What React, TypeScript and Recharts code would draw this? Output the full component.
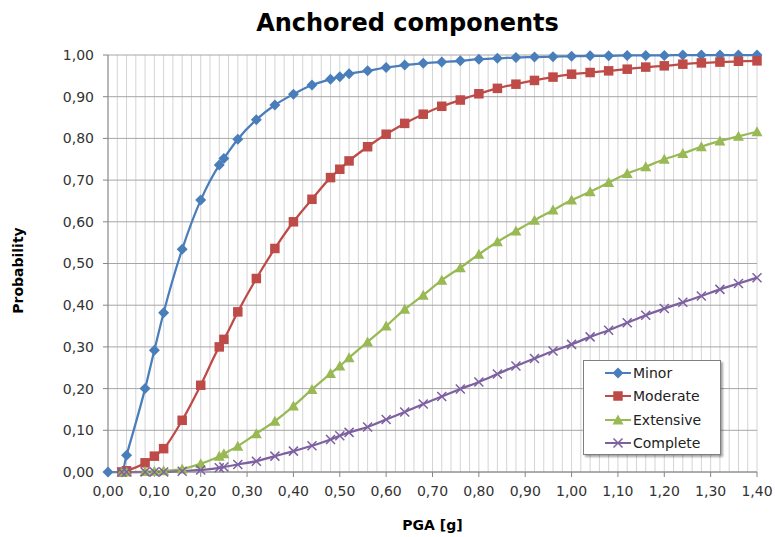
import React from 'react';
import { LineChart, Line, XAxis, YAxis, CartesianGrid } from 'recharts';

// PGA values [g] where the fragility curves are sampled
const pga = [
  0, 0.03, 0.04, 0.08, 0.1, 0.12, 0.16, 0.2, 0.24, 0.25, 0.28, 0.32, 0.36, 0.4,
  0.44, 0.48, 0.5, 0.52, 0.56, 0.6, 0.64, 0.68, 0.72, 0.76, 0.8, 0.84, 0.88, 0.92,
  0.96, 1.0, 1.04, 1.08, 1.12, 1.16, 1.2, 1.24, 1.28, 1.32, 1.36, 1.4,
];

const minor = [
  0, 0, 0.04, 0.2, 0.292, 0.382, 0.534, 0.652, 0.736, 0.752, 0.798, 0.845, 0.88, 0.906,
  0.928, 0.942, 0.948, 0.955, 0.962, 0.97, 0.976, 0.98, 0.983, 0.986, 0.99, 0.992, 0.994, 0.995,
  0.996, 0.997, 0.998, 0.998, 0.999, 0.999, 0.999, 1.0, 1.0, 1.0, 1.0, 1.0,
];

const moderate = [
  null, 0, 0.003, 0.022, 0.038, 0.056, 0.124, 0.208, 0.3, 0.318, 0.384, 0.464, 0.536, 0.6,
  0.654, 0.706, 0.726, 0.746, 0.78, 0.81, 0.836, 0.858, 0.877, 0.892, 0.907, 0.92, 0.93, 0.939,
  0.947, 0.954, 0.958, 0.962, 0.966, 0.971, 0.974, 0.978, 0.981, 0.983, 0.985, 0.986,
];

const extensive = [
  null, 0, 0, 0.001, 0.002, 0.003, 0.007, 0.02, 0.038, 0.044, 0.062, 0.092, 0.122, 0.158,
  0.198, 0.236, 0.254, 0.274, 0.312, 0.35, 0.39, 0.424, 0.46, 0.49, 0.522, 0.552, 0.578, 0.604,
  0.628, 0.652, 0.672, 0.694, 0.716, 0.732, 0.75, 0.764, 0.78, 0.794, 0.805, 0.816,
];

const complete = [
  null, 0, 0, 0, 0, 0, 0.002, 0.005, 0.01, 0.012, 0.018, 0.026, 0.038, 0.05,
  0.063, 0.078, 0.087, 0.095, 0.108, 0.126, 0.144, 0.163, 0.181, 0.199, 0.216, 0.235, 0.254, 0.272,
  0.29, 0.306, 0.324, 0.34, 0.358, 0.376, 0.392, 0.407, 0.422, 0.438, 0.452, 0.466,
];

const xTicks = [0, 0.1, 0.2, 0.3, 0.4, 0.5, 0.6, 0.7, 0.8, 0.9, 1.0, 1.1, 1.2, 1.3, 1.4];
const yTicks = [0, 0.1, 0.2, 0.3, 0.4, 0.5, 0.6, 0.7, 0.8, 0.9, 1.0];
const minorStep = 0.02;
const xMax = 1.4;

const series = [
  { key: 'minor', name: 'Minor', color: '#4a7ebb', shape: 'diamond' },
  { key: 'moderate', name: 'Moderate', color: '#be4b48', shape: 'square' },
  { key: 'extensive', name: 'Extensive', color: '#98b954', shape: 'triangle' },
  { key: 'complete', name: 'Complete', color: '#7d60a0', shape: 'x' },
];

const data = pga.map((x, i) => ({
  x,
  minor: minor[i],
  moderate: moderate[i],
  extensive: extensive[i],
  complete: complete[i],
}));

const FONT = '"DejaVu Sans", Verdana, sans-serif';
const fmt = (v: number) => v.toFixed(2).replace('.', ',');

const Marker = ({ shape, cx, cy, color }: { shape: string; cx: number; cy: number; color: string }) => {
  switch (shape) {
    case 'diamond':
      return <polygon points={`${cx},${cy - 5.5} ${cx + 5.5},${cy} ${cx},${cy + 5.5} ${cx - 5.5},${cy}`} fill={color} />;
    case 'square':
      return <rect x={cx - 4.75} y={cy - 4.75} width={9.5} height={9.5} fill={color} />;
    case 'triangle':
      return <polygon points={`${cx},${cy - 5.5} ${cx + 5.5},${cy + 4.5} ${cx - 5.5},${cy + 4.5}`} fill={color} />;
    default:
      return (
        <path
          d={`M${cx - 4.5},${cy - 4.5}L${cx + 4.5},${cy + 4.5}M${cx - 4.5},${cy + 4.5}L${cx + 4.5},${cy - 4.5}`}
          stroke={color}
          strokeWidth={1.5}
          fill="none"
        />
      );
  }
};

const ChartLegend = () => (
  <div
    style={{
      position: 'absolute',
      left: 583,
      top: 360,
      width: 136,
      height: 93,
      background: '#fff',
      border: '1px solid #7f7f7f',
      boxShadow: '2px 2px 2px rgba(0,0,0,0.35)',
      fontFamily: FONT,
      fontSize: 14,
      color: '#222',
    }}
  >
    {series.map((s, i) => (
      <div key={s.key} style={{ position: 'absolute', left: 21, top: 1 + i * 23.3, height: 22, display: 'flex', alignItems: 'center' }}>
        <svg width={27} height={14} style={{ marginRight: 1 }}>
          <line x1={0} y1={7} x2={26} y2={7} stroke={s.color} strokeWidth={2} />
          <Marker shape={s.shape} cx={13} cy={7} color={s.color} />
        </svg>
        <span>{s.name}</span>
      </div>
    ))}
  </div>
);

const YTitle = ({ viewBox }: any) => {
  const cy = viewBox.y + viewBox.height / 2 + 7;
  return (
    <text
      x={18}
      y={cy}
      transform={`rotate(-90, 18, ${cy})`}
      textAnchor="middle"
      dominantBaseline="central"
      style={{ fontFamily: FONT, fontSize: 14, fontWeight: 'bold', fill: '#000' }}
    >
      Probability
    </text>
  );
};

export default function App() {
  const minorTicks = Array.from({ length: Math.round(xMax / minorStep) + 1 }, (_, i) => i * minorStep);

  return (
    <div style={{ position: 'absolute', left: 0, top: 0, width: 775, height: 537, background: '#fff' }}>
      <div
        style={{
          position: 'absolute',
          left: 0,
          top: 11,
          width: 815,
          textAlign: 'center',
          fontFamily: FONT,
          fontWeight: 'bold',
          fontSize: 24,
          lineHeight: '24px',
          color: '#000',
        }}
      >
        Anchored components
      </div>
      <LineChart width={775} height={537} data={data} margin={{ top: 55, right: 18, bottom: 0, left: 0 }}>
        <CartesianGrid
          horizontal={false}
          stroke="#d4d4d4"
          verticalCoordinatesGenerator={({ offset }: any) =>
            minorTicks.map((t) => offset.left + (t / xMax) * offset.width)
          }
        />
        <CartesianGrid vertical={false} stroke="#a6a6a6" />
        <XAxis
          type="number"
          dataKey="x"
          domain={[0, xMax]}
          ticks={xTicks}
          interval={0}
          tickFormatter={fmt}
          height={65}
          tickSize={5}
          tickMargin={9}
          stroke="#868686"
          tick={{ fill: '#333', fontSize: 14, fontFamily: FONT }}
          label={{
            value: 'PGA [g]',
            position: 'insideBottom',
            offset: 7,
            style: { fontFamily: FONT, fontSize: 14, fontWeight: 'bold', fill: '#000' },
          }}
        />
        <YAxis
          type="number"
          domain={[0, 1]}
          ticks={yTicks}
          interval={0}
          tickFormatter={fmt}
          width={108}
          tickSize={5}
          tickMargin={9}
          stroke="#868686"
          tick={{ fill: '#333', fontSize: 14, fontFamily: FONT }}
          label={<YTitle />}
        />
        {series.map((s) => (
          <Line
            key={s.key}
            dataKey={s.key}
            name={s.name}
            type="monotone"
            stroke={s.color}
            strokeWidth={2.25}
            isAnimationActive={false}
            dot={(p: any) =>
              p.cx == null || p.cy == null || p.value == null ? (
                <g key={`${s.key}-${p.index}`} />
              ) : (
                <g key={`${s.key}-${p.index}`}>
                  <Marker shape={s.shape} cx={p.cx} cy={p.cy} color={s.color} />
                </g>
              )
            }
            activeDot={false}
          />
        ))}
      </LineChart>
      <ChartLegend />
    </div>
  );
}
